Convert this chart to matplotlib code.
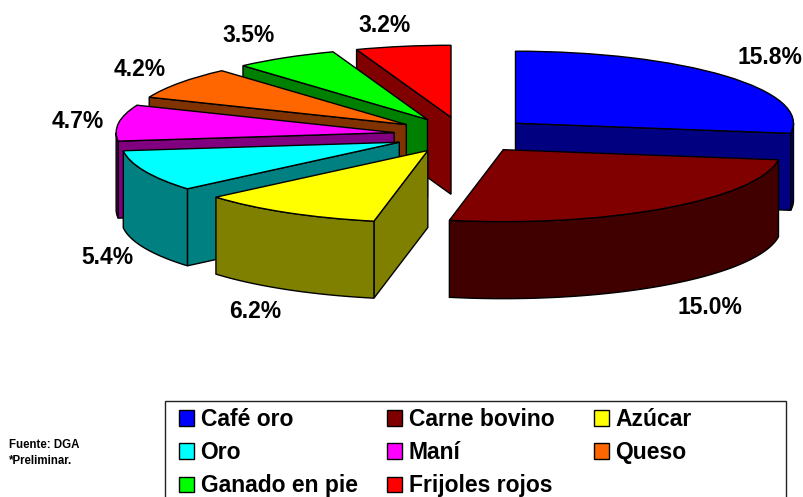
import numpy as np
import matplotlib
matplotlib.use('Agg')
import matplotlib.pyplot as plt
from matplotlib.patches import Rectangle

plt.rcParams['font.family'] = ['Liberation Sans', 'DejaVu Sans']

# data
productos = ['Café oro', 'Carne bovino', 'Azúcar', 'Oro', 'Maní', 'Queso', 'Ganado en pie', 'Frijoles rojos']
valores = [15.8, 15.0, 6.2, 5.4, 4.7, 4.2, 3.5, 3.2]
colores = ['#0000FF', '#800000', '#FFFF00', '#00FFFF', '#FF00FF', '#FF6600', '#00FF00', '#FF0000']

W, H = 804, 497
CX, CY = 463, 135   # pie centre in pixels
RX, RY = 278, 72    # ellipse radii in pixels
DEPTH = 77 / RY     # wall height, in data units
EXPLODE = 0.25

fig = plt.figure(figsize=(W / 100, H / 100), dpi=100)
ax = fig.add_axes([0, 0, 1, 1])

wedges, _ = ax.pie(valores, explode=[EXPLODE] * len(valores), startangle=90, counterclock=False,
                   colors=colores, wedgeprops={'edgecolor': 'black', 'linewidth': 1.0})

# pie forces equal aspect, squash it to look like the 3d one
ax.set_aspect('auto')
ax.set_xlim(-CX / RX, (W - CX) / RX)
ax.set_ylim(-(H - CY) / RY, CY / RY)
ax.axis('off')

# painter's order, back to front
orden = [7, 6, 5, 4, 0, 3, 2, 1]

angulos = 90 - np.cumsum([0] + valores) / sum(valores) * 360


def oscuro(c):
    rgb = matplotlib.colors.to_rgb(c)
    return tuple(v * 0.5 for v in rgb)


def pared(xs, ys, color, z):
    xs = np.asarray(xs)
    ys = np.asarray(ys)
    px = np.concatenate([xs, xs[::-1]])
    py = np.concatenate([ys, ys[::-1] - DEPTH])
    ax.fill(px, py, facecolor=color, edgecolor='black', linewidth=1.0, zorder=z)


for rank, i in enumerate(orden):
    z = 10 + rank * 2
    a_ini, a_fin = angulos[i], angulos[i + 1]
    medio = np.radians((a_ini + a_fin) / 2)
    ox, oy = EXPLODE * np.cos(medio), EXPLODE * np.sin(medio)
    wedges[i].set_zorder(z + 1)
    c = oscuro(colores[i])

    # radial faces, only those turned to the viewer
    for a, normal in [(a_ini, a_ini + 90), (a_fin, a_fin - 90)]:
        if np.sin(np.radians(normal)) < -1e-6:
            r = np.radians(a)
            pared([ox, ox + np.cos(r)], [oy, oy + np.sin(r)], c, z)

    # outer rim, front half only
    t1, t2 = max(a_fin, -180), min(a_ini, 0)
    if t2 > t1:
        t = np.radians(np.linspace(t1, t2, 60))
        pared(ox + np.cos(t), oy + np.sin(t), c, z)

# percent labels
pos_etiquetas = [(770, 57), (710, 307), (255, 312), (107, 258), (78, 121), (140, 69), (249, 36), (385, 26)]
for v, (x, y) in zip(valores, pos_etiquetas):
    fig.text(x / W, 1 - y / H, '%.1f%%' % v, ha='center', va='center', fontsize=16.5, fontweight='bold')

# legend box
fig.add_artist(Rectangle((165 / W, 1 - 502 / H), 621 / W, 101 / H, transform=fig.transFigure,
                         facecolor='white', edgecolor='#222222', linewidth=1.0))

# one legend per column so the columns sit at even distances
columnas = [([0, 3, 6], 179), ([1, 4, 7], 387), ([2, 5], 594)]
for idx, x0 in columnas:
    ley = fig.legend([wedges[i] for i in idx], [productos[i] for i in idx],
                     loc='upper left', bbox_to_anchor=(x0 / W, 1 - 408 / H), frameon=False,
                     prop={'size': 16.5, 'weight': 'bold'}, handlelength=0.64, handleheight=0.64,
                     handletextpad=0.3, labelspacing=0.44, borderpad=0, borderaxespad=0)
    ley.set_zorder(5)

fig.text(9 / W, 1 - 445 / H, 'Fuente: DGA', fontsize=8.3, fontweight='bold', va='center')
fig.text(9 / W, 1 - 461 / H, '*Preliminar.', fontsize=8.3, fontweight='bold', va='center')

plt.savefig('out.png', dpi=100)
plt.close()
